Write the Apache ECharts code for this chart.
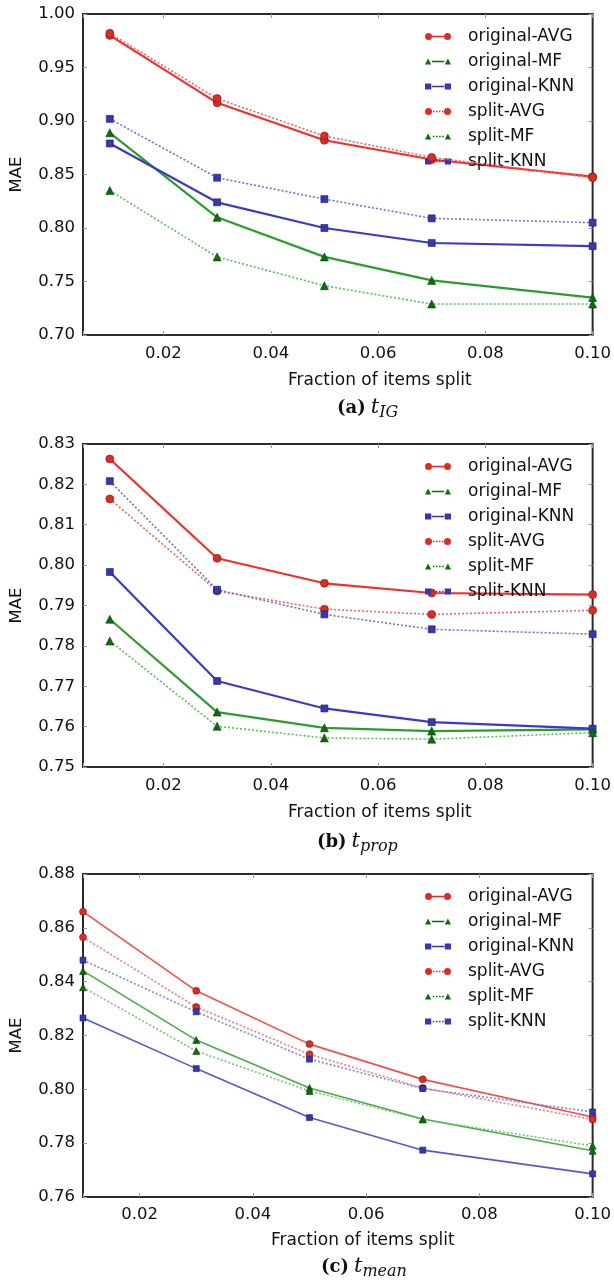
<!DOCTYPE html>
<html><head><meta charset="utf-8">
<script src="https://cdn.jsdelivr.net/npm/echarts@6/dist/echarts.min.js"></script>
<style>html,body{margin:0;padding:0;background:#fff}#c{width:614px;height:1286px}</style>
</head><body><div id="c"></div>
<script>
// ---- data ----
const seriesNames = ['original-AVG', 'original-MF', 'original-KNN', 'split-AVG', 'split-MF', 'split-KNN'];
const xFractions = [0.01, 0.03, 0.05, 0.07, 0.10];
const xTickLabels = [0.02, 0.04, 0.06, 0.08, 0.10];

// (a) t_IG
const a_origAVG  = [0.980, 0.917, 0.882, 0.864, 0.848];
const a_origMF   = [0.889, 0.810, 0.773, 0.751, 0.735];
const a_origKNN  = [0.879, 0.824, 0.800, 0.786, 0.783];
const a_splitAVG = [0.982, 0.921, 0.886, 0.866, 0.847];
const a_splitMF  = [0.835, 0.773, 0.746, 0.729, 0.729];
const a_splitKNN = [0.902, 0.847, 0.827, 0.809, 0.805];
// (b) t_prop
const b_origAVG  = [0.8263, 0.8017, 0.7955, 0.7931, 0.7927];
const b_origMF   = [0.7866, 0.7636, 0.7597, 0.7589, 0.7593];
const b_origKNN  = [0.7983, 0.7713, 0.7645, 0.7611, 0.7595];
const b_splitAVG = [0.8164, 0.7936, 0.7891, 0.7878, 0.7888];
const b_splitMF  = [0.7812, 0.7601, 0.7572, 0.7569, 0.7585];
const b_splitKNN = [0.8208, 0.7939, 0.7878, 0.7841, 0.7829];
// (c) t_mean
const c_origAVG  = [0.8660, 0.8366, 0.8168, 0.8037, 0.7897];
const c_origMF   = [0.8440, 0.8183, 0.8005, 0.7890, 0.7772];
const c_origKNN  = [0.8265, 0.8077, 0.7895, 0.7774, 0.7686];
const c_splitAVG = [0.8565, 0.8306, 0.8130, 0.8005, 0.7888];
const c_splitMF  = [0.8379, 0.8142, 0.7994, 0.7888, 0.7790];
const c_splitKNN = [0.8480, 0.8288, 0.8112, 0.8003, 0.7916];

const panelData = [
  [a_origAVG, a_origMF, a_origKNN, a_splitAVG, a_splitMF, a_splitKNN],
  [b_origAVG, b_origMF, b_origKNN, b_splitAVG, b_splitMF, b_splitKNN],
  [c_origAVG, c_origMF, c_origKNN, c_splitAVG, c_splitMF, c_splitKNN]
];
const yTickRanges = [[0.70, 1.00, 0.05], [0.75, 0.83, 0.01], [0.76, 0.88, 0.02]];
const xRanges = [[0.005, 0.10], [0.005, 0.10], [0.01, 0.10]];

// ---- layout / style ----
const FONT = 'DejaVu Sans';
const grids = [
  {left: 83, top: 14, width: 512, height: 321},
  {left: 83, top: 444, width: 512, height: 323},
  {left: 83, top: 874, width: 512, height: 323}
];
const xNameGap = [37, 37, 35];
const xNameShift = [84, 84, 50];
const xLabelMargin = [10, 10, 9];
const legendTops = [28, 458, 888];
const captions = [
  {left: 337, top: 395, b: '(a)', sub: 'IG'},
  {left: 317, top: 829, b: '(b)', sub: 'prop'},
  {left: 321, top: 1254, b: '(c)', sub: 'mean'}
];

const styles = [
  {line: '#f0302a', dot: '#f36464', mk: '#dd2b25', edge: '#7a1a16', symbol: 'circle'},
  {line: '#2c9c2c', dot: '#5cbc5c', mk: '#0d6d0d', edge: '#073f07', symbol: 'triangle'},
  {line: '#3a3ac6', dot: '#6f6fdb', mk: '#3737b0', edge: '#1e1e66', symbol: 'rect'}
];

function legendPath(kind, dotted) {
  let m1, m2;
  if (kind === 'circle') {
    m1 = 'M0,3.5A3.5,3.5,0,1,0,7,3.5A3.5,3.5,0,1,0,0,3.5Z';
    m2 = 'M19,3.5A3.5,3.5,0,1,0,26,3.5A3.5,3.5,0,1,0,19,3.5Z';
  } else if (kind === 'triangle') {
    m1 = 'M3.5,0.5L6.5,6.5L0.5,6.5Z';
    m2 = 'M22.5,0.5L25.5,6.5L19.5,6.5Z';
  } else {
    m1 = 'M0.5,0.5L6.5,0.5L6.5,6.5L0.5,6.5Z';
    m2 = 'M19.5,0.5L25.5,0.5L25.5,6.5L19.5,6.5Z';
  }
  let ln;
  if (!dotted) ln = 'M7,2.8L19,2.8L19,4.2L7,4.2Z';
  else ln = 'M8,2.8L9.5,2.8L9.5,4.2L8,4.2Z M11,2.8L12.5,2.8L12.5,4.2L11,4.2Z M14,2.8L15.5,2.8L15.5,4.2L14,4.2Z M17,2.8L18.5,2.8L18.5,4.2L17,4.2Z';
  return 'path://' + m1 + ' ' + ln + ' ' + m2;
}

const fmt2 = v => v.toFixed(2);
const xFmt = v => xTickLabels.some(t => Math.abs(t - v) < 1e-6) ? v.toFixed(2) : '';

const xAxis = [], yAxis = [], series = [], legend = [], title = [];

for (let p = 0; p < 3; p++) {
  const [xmin, xmax] = xRanges[p];
  const [ymin, ymax, yint] = yTickRanges[p];
  xAxis.push({
    type: 'value', gridIndex: p, position: 'bottom', min: xmin, max: xmax,
    name: 'Fraction of items split', nameLocation: 'middle', nameGap: xNameGap[p],
    nameTextStyle: {fontFamily: FONT, fontSize: 17, color: '#111', padding: [0, 0, 0, xNameShift[p]]},
    axisLine: {show: false}, splitLine: {show: false},
    axisTick: {show: true, inside: true, length: 4, lineStyle: {color: '#999'}},
    axisLabel: {formatter: xFmt, fontFamily: FONT, fontSize: 16.5, color: '#111', margin: xLabelMargin[p]}
  });
  xAxis.push({
    type: 'value', gridIndex: p, position: 'top', min: xmin, max: xmax,
    axisLine: {show: false}, splitLine: {show: false}, axisLabel: {show: false},
    axisTick: {show: true, inside: true, length: 4, lineStyle: {color: '#999'}}
  });
  yAxis.push({
    type: 'value', gridIndex: p, position: 'left', min: ymin, max: ymax, interval: yint,
    name: 'MAE', nameLocation: 'middle', nameGap: 58,
    nameTextStyle: {fontFamily: FONT, fontSize: 16.5, color: '#111'},
    axisLine: {show: false}, splitLine: {show: false},
    axisTick: {show: true, inside: true, length: 4, lineStyle: {color: '#999'}},
    axisLabel: {formatter: fmt2, fontFamily: FONT, fontSize: 16.5, color: '#111', margin: 8}
  });
  yAxis.push({
    type: 'value', gridIndex: p, position: 'right', min: ymin, max: ymax, interval: yint,
    axisLine: {show: false}, splitLine: {show: false}, axisLabel: {show: false},
    axisTick: {show: true, inside: true, length: 4, lineStyle: {color: '#999'}}
  });

  const suffix = ' '.repeat(p);
  const legendData = [];
  for (let s = 0; s < 6; s++) {
    const st = styles[s % 3];
    const dotted = s >= 3;
    const name = seriesNames[s] + suffix;
    const thin = p === 2;
    series.push({
      type: 'line', name, xAxisIndex: 2 * p, yAxisIndex: 2 * p,
      data: xFractions.map((x, i) => [x, panelData[p][s][i]]),
      symbol: st.symbol,
      symbolSize: st.symbol === 'rect' ? (thin ? 6 : 7) : (thin ? 7 : 8),
      showSymbol: true, animation: false, silent: true,
      lineStyle: {
        color: dotted ? st.dot : st.line,
        width: dotted ? 1.6 : (thin ? 1.6 : 2.2),
        type: dotted ? [2, 2] : 'solid',
        opacity: thin ? 0.85 : 1
      },
      itemStyle: {color: st.mk, borderColor: st.edge, borderWidth: 0.6},
      z: 2 + s
    });
    legendData.push({name, icon: legendPath(st.symbol, dotted), itemStyle: {color: st.mk, borderWidth: 0}});
  }
  legend.push({
    data: legendData, orient: 'vertical', left: 425, top: legendTops[p], padding: 0,
    itemWidth: 26, itemHeight: 7, itemGap: 8, selectedMode: false,
    formatter: n => n.trim(),
    textStyle: {fontFamily: FONT, fontSize: 17, color: '#111', padding: [0, 0, 0, 12]}
  });
  const c = captions[p];
  title.push({
    left: c.left, top: c.top, padding: 0,
    text: '{b|' + c.b + '}{t|t}{s|' + c.sub + '}',
    textStyle: {
      fontWeight: 'normal',
      rich: {
        b: {fontFamily: 'DejaVu Serif', fontWeight: 'bold', fontSize: 18, lineHeight: 26, color: '#111'},
        t: {fontFamily: 'DejaVu Serif', fontStyle: 'italic', fontWeight: 'normal', fontSize: 21, lineHeight: 26, color: '#111', padding: [0, 0, 0, 5]},
        s: {fontFamily: 'DejaVu Serif', fontStyle: 'italic', fontWeight: 'normal', fontSize: 16, lineHeight: 14, verticalAlign: 'bottom', color: '#111'}
      }
    }
  });
}

const chart = echarts.init(document.getElementById('c'), null, {renderer: 'canvas'});
chart.setOption({
  animation: false,
  backgroundColor: '#fff',
  grid: grids.map(g => Object.assign({show: true, borderColor: '#2a2a2a', borderWidth: 2, backgroundColor: 'transparent', containLabel: false}, g)),
  xAxis, yAxis, series, legend, title
});
</script></body></html>
